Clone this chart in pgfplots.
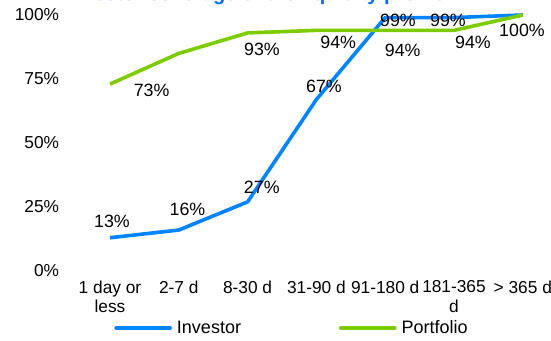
\documentclass[border=0pt]{standalone}
\usepackage{pgfplots}
\pgfplotsset{compat=1.18}
\usepackage{fontspec}
\setmainfont{Liberation Sans}
\definecolor{invblue}{RGB}{0,132,255}
\definecolor{portgreen}{RGB}{124,204,0}
\definecolor{titleblue}{RGB}{0,110,255}
\newcommand{\tickfont}{\fontsize{17.3}{19.3}\selectfont}
\newcommand{\labfont}{\fontsize{17.8}{20}\selectfont}
\begin{document}
\begin{tikzpicture}
\begin{axis}[
  at={(0pt,0pt)}, anchor=south west,
  scale only axis, width=481.6pt, height=256pt,
  xmin=-0.5, xmax=6.5, ymin=0, ymax=100,
  clip=false,
  /pgf/number format/assume math mode=true,
  axis line style={draw=none},
  tick style={draw=none},
  xtick={0,...,6},
  xticklabels={{1 day or\\less},{2-7 d},{8-30 d},{31-90 d},{91-180 d},{181-365\\d},{> 365 d}},
  xticklabel style={align=center, inner sep=0pt, anchor=north, yshift=-9.5pt, font=\tickfont},
  ytick={0,25,50,75,100},
  yticklabels={0\%,25\%,50\%,75\%,100\%},
  yticklabel style={anchor=east, inner sep=0pt, xshift=-16.3pt, font=\tickfont},
  legend columns=2,
  legend style={at={(axis description cs:0.4473,-0.2227)}, anchor=center, draw=none, fill=none,
    font=\fontsize{18}{20}\selectfont, nodes={inner sep=0pt},
    /tikz/every odd column/.append style={column sep=5pt},
    /tikz/every even column/.append style={column sep=98pt}},
  legend image code/.code={\draw[#1, line cap=round] (0pt,0pt) -- (54pt,0pt);},
]
\addplot[invblue, line width=3.6pt, line join=round, mark=none] table {
x y
0 13
1 16
2 27
3 67
4 99
5 99
6 100
};
\addlegendentry{Investor}
\addplot[portgreen, line width=3.6pt, line join=round, mark=none] table {
x y
0 73
1 85
2 93
3 94
4 94
5 94
6 100
};
\addlegendentry{Portfolio}
% data labels, Investor
\addplot[forget plot, draw=none, mark=none, point meta=y,
  nodes near coords={\pgfmathprintnumber[assume math mode=true]{\pgfplotspointmeta}\%},
  visualization depends on={value \thisrow{dx}\as\dx},
  visualization depends on={value \thisrow{dy}\as\dy},
  every node near coord/.append style={anchor=center, inner sep=0pt, xshift=\dx pt, yshift=\dy pt, text=black, font=\labfont}]
table {
x y dx dy
0 13 2 16.6
1 16 8.7 20.7
2 27 14.2 14.3
3 67 7.6 13.5
4 99 12.8 -2.7
5 99 -6 -2.7
};
% data labels, Portfolio
\addplot[forget plot, draw=none, mark=none, point meta=y,
  nodes near coords={\pgfmathprintnumber[assume math mode=true]{\pgfplotspointmeta}\%},
  visualization depends on={value \thisrow{dx}\as\dx},
  visualization depends on={value \thisrow{dy}\as\dy},
  every node near coord/.append style={anchor=center, inner sep=0pt, xshift=\dx pt, yshift=\dy pt, text=black, font=\labfont}]
table {
x y dx dy
0 73 41.6 -6.5
2 93 14.4 -16.3
3 94 21.8 -11.8
4 94 17.5 -19.6
5 94 19 -12.3
6 100 -0.8 -15.7
};
\end{axis}
\node[anchor=base west, inner sep=0pt, text=titleblue, font=\bfseries\fontsize{20}{24}\selectfont] at (-10.6pt,270.2pt) {Investor coverage of the liquidity profile};
\pgfresetboundingbox
\useasboundingbox (-75.6pt,-69pt) rectangle (475.4pt,271pt);
\end{tikzpicture}
\end{document}
